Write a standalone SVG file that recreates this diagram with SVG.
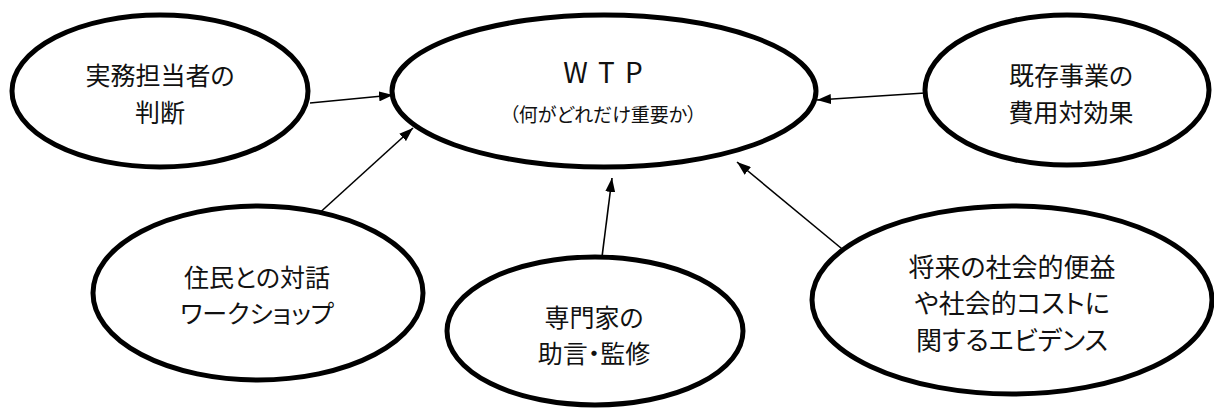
<svg xmlns="http://www.w3.org/2000/svg" width="1214" height="408" viewBox="0 0 1214 408">
<style>
.node ellipse{fill:#fff;stroke:#000;stroke-width:5}
text{font-family:"Noto Sans CJK JP","Noto Sans",sans-serif;fill:#111;text-anchor:middle;font-feature-settings:"palt"}
.t{font-size:25px}
.e{font-size:26px}
.s{font-size:19px}
.w{font-size:28px;letter-spacing:2px}
#connectors line{stroke:#000;stroke-width:1.6;marker-end:url(#ah)}
</style>
<defs>
<marker id="ah" viewBox="0 0 14 10" refX="14" refY="5" markerWidth="14" markerHeight="10" markerUnits="userSpaceOnUse" orient="auto">
<path d="M0,0L14,5L0,10z" fill="#000"/>
</marker>
</defs>
<g id="connectors">
<line x1="310" y1="103" x2="393" y2="95"/>
<line x1="315" y1="217" x2="413" y2="128"/>
<line x1="602" y1="257" x2="612" y2="178"/>
<line x1="847" y1="253" x2="737" y2="162"/>
<line x1="925" y1="93" x2="817" y2="100"/>
</g>
<g id="n-wtp" class="node">
<ellipse cx="604" cy="91" rx="212" ry="76"/>
<text class="w" x="604" y="83">W T P</text>
<text class="s" x="603" y="122">（何がどれだけ重要か）</text>
</g>
<g id="n-staff" class="node">
<ellipse cx="160" cy="91" rx="148" ry="76"/>
<text class="t" x="160" y="85">実務担当者の</text>
<text class="t" x="160" y="122">判断</text>
</g>
<g id="n-cost" class="node">
<ellipse cx="1067" cy="90" rx="142" ry="75"/>
<text class="t" x="1071" y="85">既存事業の</text>
<text class="t" x="1071" y="122">費用対効果</text>
</g>
<g id="n-residents" class="node">
<ellipse cx="258" cy="293" rx="165" ry="87"/>
<text class="t" x="257" y="287">住民との対話</text>
<text class="t" x="257" y="323">ワークショップ</text>
</g>
<g id="n-expert" class="node">
<ellipse cx="595" cy="331" rx="148" ry="74"/>
<text class="t" x="594" y="327">専門家の</text>
<text class="t" x="594" y="363">助言・監修</text>
</g>
<g id="n-evidence" class="node">
<ellipse cx="1012" cy="300" rx="200" ry="94"/>
<text class="e" x="1012" y="277">将来の社会的便益</text>
<text class="e" x="1012" y="313">や社会的コストに</text>
<text class="e" x="1012" y="350">関するエビデンス</text>
</g>
</svg>
